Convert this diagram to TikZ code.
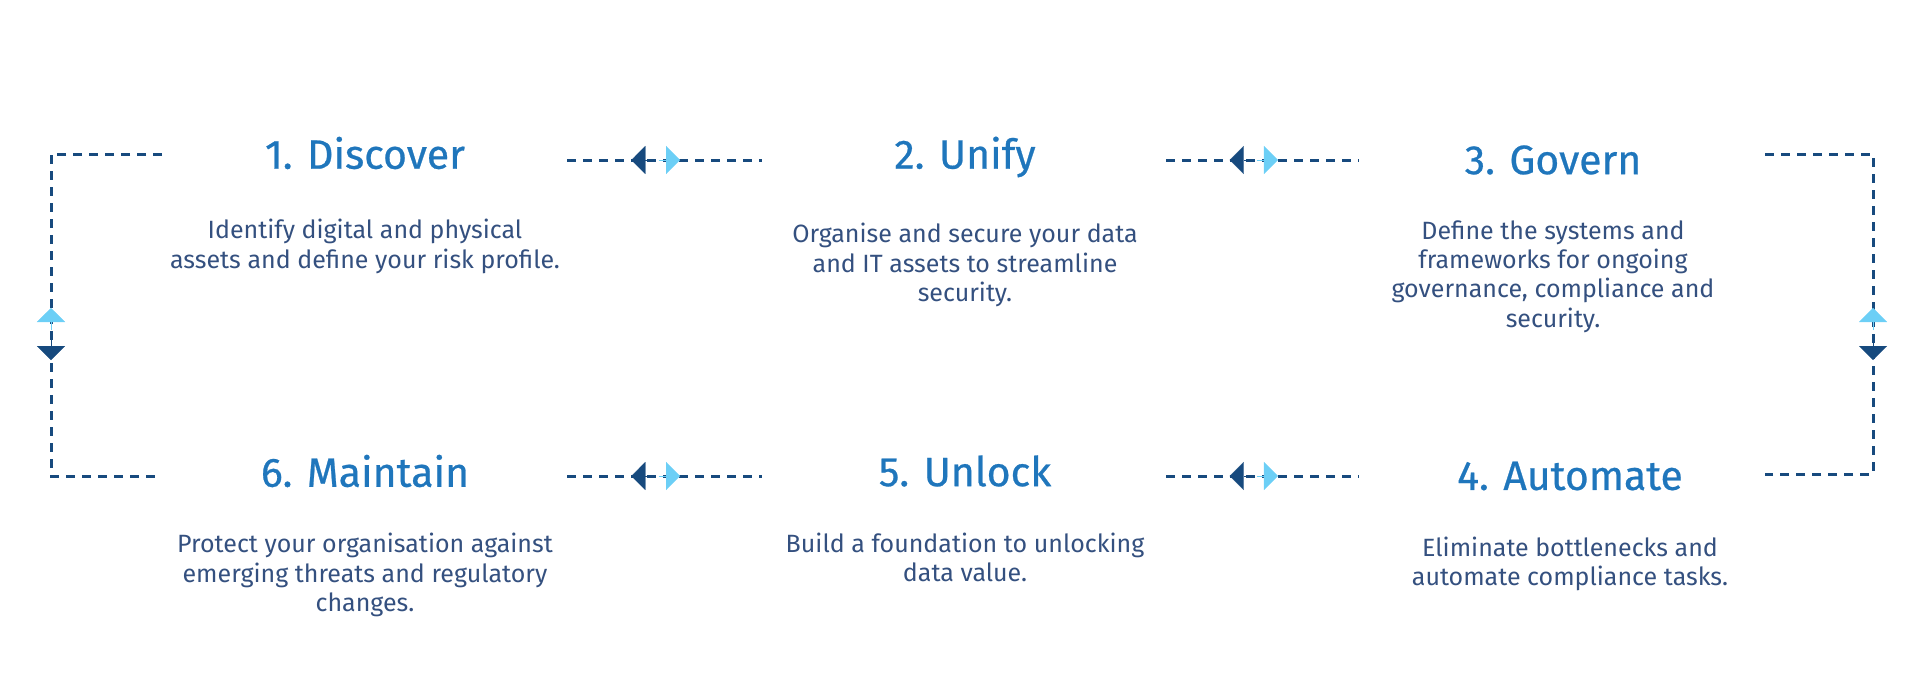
\documentclass[tikz,border=0pt]{standalone}
\usepackage{fontspec}
\setmainfont{Fira Sans}
\newfontfamily\titlefont[FakeBold=0.6]{Fira Sans}
\usetikzlibrary{arrows.meta, positioning, calc}
\definecolor{titleblue}{HTML}{1F76BC}
\definecolor{linedark}{HTML}{174A7E}
\definecolor{tiplight}{HTML}{6CCFF6}
\definecolor{textblue}{HTML}{34507F}
\tikzset{
  steptitle/.style={font=\titlefont\fontsize{20.5}{24}\selectfont, text=titleblue},
  stepdesc/.style={font=\fontsize{12.5}{14.6}\selectfont, text=textblue, align=center},
  dline/.style={linedark, line width=1.5pt, dash pattern=on 4.5pt off 3.5pt},
  tipdark/.style={linedark, line width=0.1pt, -{Triangle[length=7pt, width=14pt]}},
  tiplite/.style={tiplight, line width=0.1pt, -{Triangle[length=7pt, width=14pt]}}
}
\begin{document}
\begin{tikzpicture}[x=0.5pt, y=-0.5pt]
    \useasboundingbox (0,0) rectangle (1920,685);
    % Steps - top row
    \node[steptitle] (t1) at (365,153) {1. Discover};
    \node[stepdesc, below=18pt of t1] (d1) {Identify digital and physical\\assets and define your risk profile.};
    \node[steptitle] (t2) at (965,157) {2. Unify};
    \node[stepdesc, below=16pt of t2] (d2) {Organise and secure your data\\and IT assets to streamline\\security.};
    \node[steptitle] (t3) at (1553,160) {3. Govern};
    \node[stepdesc, below=16pt of t3] (d3) {Define the systems and\\frameworks for ongoing\\governance, compliance and\\security.};
    % Steps - bottom row
    \node[steptitle] (t6) at (365,471) {6. Maintain};
    \node[stepdesc, below=16pt of t6] (d6) {Protect your organisation against\\emerging threats and regulatory\\changes.};
    \node[steptitle] (t5) at (965,471) {5. Unlock};
    \node[stepdesc, below=16pt of t5] (d5) {Build a foundation to unlocking\\data value.};
    \node[steptitle] (t4) at (1570,476) {4. Automate};
    \node[stepdesc, below=16pt of t4] (d4) {Eliminate bottlenecks and\\automate compliance tasks.};

    % Connector ends
    \coordinate (a1) at (567,160); \coordinate (b1) at (762,160);
    \coordinate (a2) at (1166,160); \coordinate (b2) at (1359,160);
    \coordinate (a3) at (567,476); \coordinate (b3) at (762,476);
    \coordinate (a4) at (1166,476); \coordinate (b4) at (1359,476);
    \coordinate (l1) at (162,154); \coordinate (l2) at (51,154);
    \coordinate (l3) at (51,476); \coordinate (l4) at (162,476);
    \coordinate (r1) at (1765,154); \coordinate (r2) at (1873,154);
    \coordinate (r3) at (1873,474); \coordinate (r4) at (1765,474);

    % Horizontal links
    \foreach \a/\b in {a1/b1, a2/b2, a3/b3, a4/b4} {
      \draw[dline] (\a) -- (\b);
      \draw[tipdark] ($(\a)!0.44!(\b)$) -- ($(\a)!0.33!(\b)$);
      \draw[tiplite] ($(\a)!0.47!(\b)$) -- ($(\a)!0.58!(\b)$);
    }
    % Side loops
    \draw[dline] (l1) -- (l2) -- (l3) -- (l4);
    \draw[tiplite] (51,330) -- (51,308);
    \draw[tipdark] (51,338) -- (51,360);
    \draw[dline] (r1) -- (r2) -- (r3) -- (r4);
    \draw[tiplite] (1873,330) -- (1873,308);
    \draw[tipdark] (1873,338) -- (1873,360);
\end{tikzpicture}
\end{document}
